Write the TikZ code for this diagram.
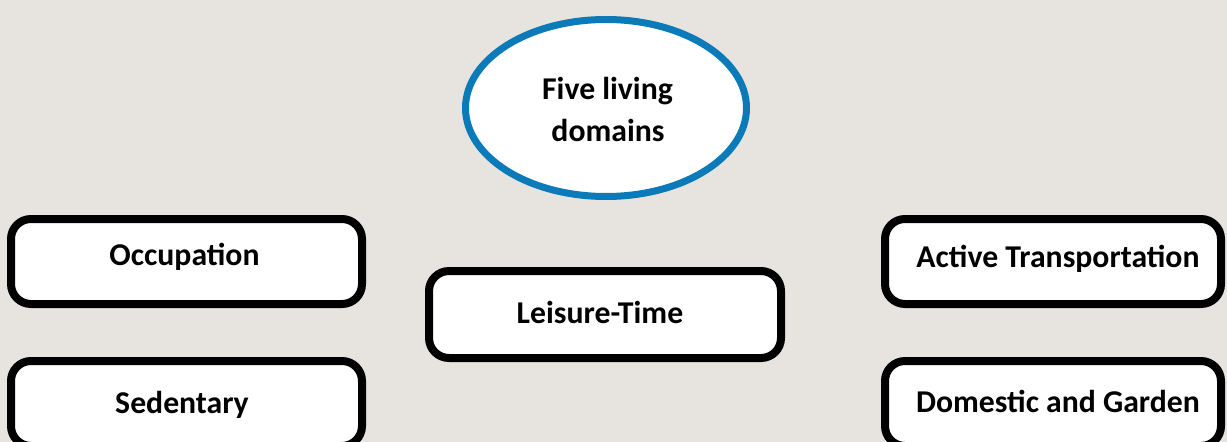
\documentclass[tikz,border=0pt]{standalone}
\usepackage{fontspec}
\setmainfont{Carlito}
\usetikzlibrary{shapes.geometric}
\definecolor{bg}{RGB}{231,228,223}
\definecolor{ringblue}{RGB}{10,122,185}
\begin{document}
\begin{tikzpicture}[x=0.75pt,y=-0.75pt,
  boxnode/.style={draw=black, line width=6pt, fill=white, rounded corners=15pt, rectangle, inner sep=0pt},
  lbl/.style={font=\fontsize{23.8}{28}\selectfont\bfseries, anchor=base, inner sep=0pt}]
\useasboundingbox (0,0) rectangle (1227,442);
\clip (0,0) rectangle (1227,442);
\fill[bg] (0,0) rectangle (1227,442);
\node[ellipse, draw=ringblue, line width=5.25pt, fill=white, minimum width=210.75pt, minimum height=132.75pt, inner sep=0pt] (hub) at (606,108) {};
\node[lbl] (hubt1) at (607.5,100) {Five living};
\node[lbl] (hubt2) at (608,142) {domains};
\node[boxnode, minimum width=263.25pt, minimum height=63.75pt] (occ) at (186.5,261.5) {};
\node[lbl] (occt) at (184.5,265) {Occupation};
\node[boxnode, minimum width=263.25pt, minimum height=63.75pt] (sed) at (186.5,403.5) {};
\node[lbl] (sedt) at (182,413) {Sedentary};
\node[boxnode, minimum width=264pt, minimum height=65.25pt] (lei) at (605,314.5) {};
\node[lbl] (leit) at (600,323) {Leisure-Time};
\node[boxnode, minimum width=252pt, minimum height=63.75pt] (act) at (1053,261.5) {};
\node[lbl] (actt) at (1058,267) {Active Transportation};
\node[boxnode, minimum width=252pt, minimum height=63.75pt] (dom) at (1053,403.5) {};
\node[lbl] (domt) at (1058,412) {Domestic and Garden};
\end{tikzpicture}
\end{document}
